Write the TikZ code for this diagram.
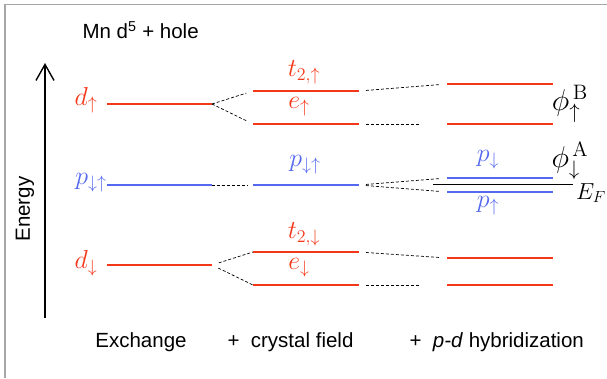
\documentclass[tikz,border=0pt]{standalone}
\usepackage{graphicx}
\usepackage[no-math]{fontspec}
\setmainfont{Liberation Sans}
\usetikzlibrary{arrows.meta}

\definecolor{lvlred}{RGB}{245,55,25}
\definecolor{lvlblue}{RGB}{85,105,240}
\newcommand{\lvlmath}[1]{\scalebox{1.25}{$#1$}}
\newcommand{\phimath}[1]{\scalebox{1.45}{$#1$}}

\begin{document}
\begin{tikzpicture}[
    x=1pt, y=-1pt,
    level/.style={line width=1.6pt},
    dlevel/.style={level, draw=lvlred},
    plevel/.style={level, draw=lvlblue},
    link/.style={dash pattern=on 3pt off 2pt, line width=0.7pt},
    dlabel/.style={text=lvlred, inner sep=1pt, font=\fontsize{20}{24}\selectfont},
    plabel/.style={text=lvlblue, inner sep=1pt, font=\fontsize{20}{24}\selectfont},
    phlabel/.style={inner sep=0.5pt, font=\fontsize{20}{24}\selectfont},
    txt/.style={font=\fontsize{20.5}{24}\selectfont}
]
\useasboundingbox (0,0) rectangle (607,378);

% Frame
\draw[gray!70, line width=1.5pt] (5,378) -- (5,4.5) -- (607,4.5);

% Title and energy axis
\node[txt, anchor=west] (title) at (79,30) {Mn d\textsuperscript{5} + hole};
\coordinate (ebot) at (45,318);
\coordinate (etop) at (45,63);
\draw[-{Straight Barb[length=16pt, width=18pt]}, line width=1.4pt] (ebot) -- (etop);
\node[txt, rotate=90] (energy) at (25,209) {Energy};

% Column 1: exchange
\draw[dlevel] (107,104) coordinate (dup-w) -- (212,104) coordinate (dup-e);
\draw[plevel] (107,185) coordinate (p1-w) -- (212,185) coordinate (p1-e);
\draw[dlevel] (107,265) coordinate (ddn-w) -- (212,265) coordinate (ddn-e);

% Column 2: crystal field
\draw[dlevel] (253,91) coordinate (t2up-w) -- (359,91) coordinate (t2up-e);
\draw[dlevel] (253,124) coordinate (eup-w) -- (359,124) coordinate (eup-e);
\draw[plevel] (253,185) coordinate (p2-w) -- (359,185) coordinate (p2-e);
\draw[dlevel] (253,252) coordinate (t2dn-w) -- (359,252) coordinate (t2dn-e);
\draw[dlevel] (253,285) coordinate (edn-w) -- (359,285) coordinate (edn-e);

% Column 3: p-d hybridization
\draw[dlevel] (447,84) coordinate (hb1-w) -- (553,84) coordinate (hb1-e);
\draw[dlevel] (447,124) coordinate (hb2-w) -- (553,124) coordinate (hb2-e);
\draw[plevel] (447,178) coordinate (pdn-w) -- (553,178) coordinate (pdn-e);
\draw[plevel] (447,192) coordinate (pup-w) -- (553,192) coordinate (pup-e);
\draw[dlevel] (447,258) coordinate (hb3-w) -- (553,258) coordinate (hb3-e);
\draw[dlevel] (447,285) coordinate (hb4-w) -- (553,285) coordinate (hb4-e);

% Fermi level
\draw[line width=0.9pt] (433,184.5) coordinate (ef-w) -- (573,184.5) coordinate (ef-e);

% Links column 1 -> column 2
\draw[link, shorten >=7pt] (dup-e) -- (t2up-w);
\draw[link, shorten >=7pt] (dup-e) -- (eup-w);
\draw[link, shorten >=5pt] (p1-e) -- (p2-w);
\draw[link, shorten <=7pt] (ddn-e) -- (t2dn-w);
\draw[link, shorten <=7pt] (ddn-e) -- (edn-w);

% Links column 2 -> column 3
\draw[link, shorten <=7pt, shorten >=7pt] (t2up-e) -- (hb1-w);
\draw[link, shorten <=7pt, shorten >=27pt] (eup-e) -- (hb2-w);
\draw[link, shorten <=7pt, shorten >=7pt] (p2-e) -- (pdn-w);
\draw[link, shorten <=7pt, shorten >=7pt] (p2-e) -- (pup-w);
\draw[link, shorten <=7pt, shorten >=7pt] (t2dn-e) -- (hb3-w);
\draw[link, shorten <=7pt, shorten >=27pt] (edn-e) -- (hb4-w);

% Level labels
\node[dlabel] (dupl) at (86,100) {\lvlmath{d_\uparrow}};
\node[plabel] (p1l) at (91,183) {\lvlmath{p_{\downarrow\uparrow}}};
\node[dlabel] (ddnl) at (86,263) {\lvlmath{d_\downarrow}};
\node[dlabel] (t2upl) at (304,72) {\lvlmath{t_{2,\uparrow}}};
\node[dlabel] (eupl) at (299,107) {\lvlmath{e_\uparrow}};
\node[plabel] (p2l) at (305,165) {\lvlmath{p_{\downarrow\uparrow}}};
\node[dlabel] (t2dnl) at (304,234) {\lvlmath{t_{2,\downarrow}}};
\node[dlabel] (ednl) at (299,268) {\lvlmath{e_\downarrow}};
\node[plabel] (pdnl) at (488,160) {\lvlmath{p_\downarrow}};
\node[plabel] (pupl) at (488,206) {\lvlmath{p_\uparrow}};
\node[phlabel] (phiB) at (570,104) {\phimath{\phi_\uparrow^{\,\mathrm{B}}}};
\node[phlabel] (phiA) at (570,161) {\phimath{\phi_\downarrow^{\,\mathrm{A}}}};
\node[phlabel] (efl) at (591,193) {\scalebox{1.12}{$E_F$}};

% Bottom captions
\node[txt] (exch) at (141,342) {Exchange};
\node[txt, anchor=west] (cryst) at (224,342) {+\ \ crystal field};
\node[txt, anchor=west] (hybr) at (406,342) {+\ \ \textit{p-d} hybridization};

\end{tikzpicture}
\end{document}
